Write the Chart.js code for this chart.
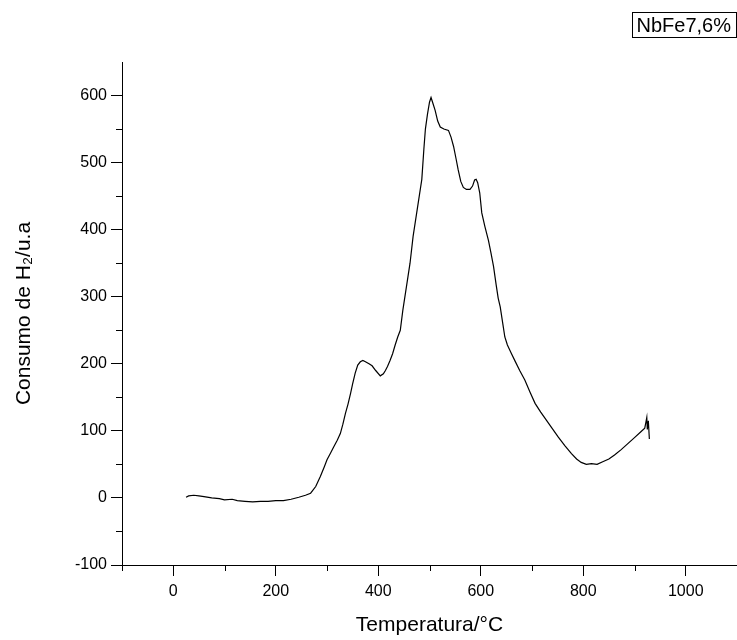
<!DOCTYPE html>
<html>
<head>
<meta charset="utf-8">
<script src="https://cdn.jsdelivr.net/npm/chart.js@4.4.1/dist/chart.umd.min.js"></script>
<style>
  html, body { margin: 0; padding: 0; background: #fff; }
  #wrap { width: 737px; height: 640px; }
</style>
</head>
<body>
<div id="wrap"><canvas id="tprChart"></canvas></div>
<script>
// TPR: consumo de H2 vs temperatura
const temperaturas = [
  25, 30, 40, 50, 60, 75, 90, 100, 115, 125, 140, 155, 170, 185, 200, 215, 230, 245, 258, 268,
  278, 287, 295, 300, 307, 313, 320, 326, 331, 336, 341, 346, 350, 355, 360, 365, 370, 375, 382, 388,
  395, 404, 410, 414, 418, 423, 428, 433, 438, 443, 448, 453, 458, 462, 468, 475, 480, 485, 489, 492,
  496, 500, 503, 506, 511, 516, 521, 528, 537, 542, 547, 552, 556, 561, 566, 572, 579, 584, 588, 591,
  594, 598, 602, 608, 615, 620, 625, 630, 634, 638, 643, 647, 652, 660, 667, 676, 686, 696, 706, 717,
  728, 740, 751, 764, 777, 787, 796, 806, 816, 827, 838, 850, 861, 874, 887, 900, 913, 920, 922, 924,
  925, 927, 929
];
const consumo = [
  1, 3, 4, 3, 2, 0, -1, -3, -2, -4, -5, -6, -5, -5, -4, -4, -2, 1, 4, 7,
  17, 32, 47, 57, 67, 76, 86, 96, 110, 126, 140, 156, 170, 186, 198, 203, 205, 203, 200, 197,
  190, 182, 185, 190, 196, 205, 215, 228, 240, 250, 280, 305, 330, 350, 390, 425, 450, 475, 520, 550,
  572, 590, 597, 590, 578, 562, 553, 550, 548, 538, 524, 505, 489, 472, 463, 460, 460, 465, 474, 475,
  470, 455, 425, 405, 384, 365, 345, 318, 298, 285, 260, 240, 228, 215, 204, 190, 176, 158, 141, 128,
  116, 103, 91, 78, 66, 58, 53, 50, 51, 50, 54, 58, 64, 72, 81, 90, 99, 104, 112, 120,
  102, 115, 88
];

const xTicks = [0, 200, 400, 600, 800, 1000];
const xMinorTicks = [-100, 100, 300, 500, 700, 900];
const yTicks = [-100, 0, 100, 200, 300, 400, 500, 600];
const yMinorTicks = [-50, 50, 150, 250, 350, 450, 550];

const serieLabel = "NbFe7,6%";
const xTitle = "Temperatura/°C";
const yTitle = "Consumo de H₂/u.a";

const FONT = "'Liberation Sans', Arial, sans-serif";

// ticks menores y recuadro de la leyenda
const extrasPlugin = {
  id: "extras",
  afterDraw(chart) {
    const { ctx, chartArea, scales } = chart;
    ctx.save();
    ctx.strokeStyle = "#000";
    ctx.lineWidth = 1;
    ctx.beginPath();
    xMinorTicks.forEach((v) => {
      const px = Math.round(scales.x.getPixelForValue(v)) + 0.5;
      ctx.moveTo(px, chartArea.bottom);
      ctx.lineTo(px, chartArea.bottom + 6);
    });
    yMinorTicks.forEach((v) => {
      const py = Math.round(scales.y.getPixelForValue(v)) + 0.5;
      ctx.moveTo(chartArea.left, py);
      ctx.lineTo(chartArea.left - 6, py);
    });
    ctx.stroke();

    ctx.font = "20px " + FONT;
    ctx.textBaseline = "middle";
    ctx.textAlign = "left";
    const w = ctx.measureText(serieLabel).width;
    const right = chart.width - 1;
    const left = right - w - 10;
    ctx.strokeRect(Math.round(left) + 0.5, 12.5, Math.round(w + 10), 25);
    ctx.fillStyle = "#000";
    ctx.fillText(serieLabel, left + 5, 26);
    ctx.restore();
  }
};

Chart.defaults.font.family = FONT;
Chart.defaults.color = "#000";

new Chart(document.getElementById("tprChart"), {
  type: "line",
  data: {
    datasets: [{
      label: serieLabel,
      data: temperaturas.map((t, i) => ({ x: t, y: consumo[i] })),
      borderColor: "#000",
      borderWidth: 1.2,
      pointRadius: 0,
      tension: 0,
      fill: false
    }]
  },
  options: {
    responsive: true,
    maintainAspectRatio: false,
    animation: false,
    layout: { padding: { top: 62, right: 0, bottom: 0, left: 0 } },
    plugins: {
      legend: { display: false },
      tooltip: { enabled: false }
    },
    scales: {
      x: {
        type: "linear",
        min: -100,
        max: 1100,
        afterBuildTicks: (s) => { s.ticks = xTicks.map((v) => ({ value: v })); },
        afterFit: (s) => { s.height = 75; },
        grid: { drawOnChartArea: false, tickLength: 11, tickColor: "#000" },
        border: { color: "#000", width: 1 },
        ticks: { font: { size: 16 }, padding: 6, maxRotation: 0, callback: (v) => String(v) },
        title: { display: true, text: xTitle, font: { size: 21 }, padding: { top: 0, bottom: 2 } }
      },
      y: {
        min: -100,
        max: 650,
        afterBuildTicks: (s) => { s.ticks = yTicks.map((v) => ({ value: v })); },
        afterFit: (s) => { s.width = 122; },
        grid: { drawOnChartArea: false, tickLength: 11, tickColor: "#000" },
        border: { color: "#000", width: 1 },
        ticks: { font: { size: 16 }, padding: 4, callback: (v) => String(v) },
        title: { display: true, text: yTitle, font: { size: 21 }, padding: { top: 12, bottom: 0 } }
      }
    }
  },
  plugins: [extrasPlugin]
});
</script>
</body>
</html>
